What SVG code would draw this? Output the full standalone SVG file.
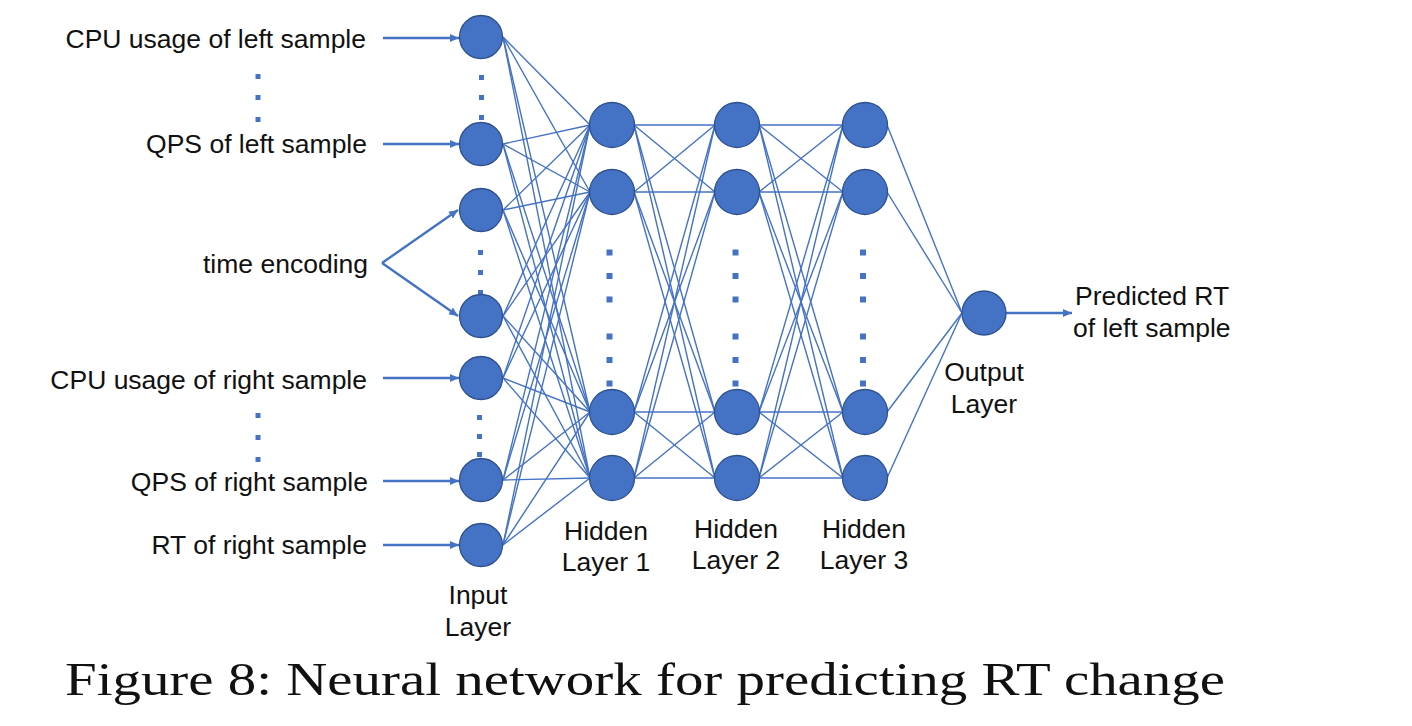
<svg xmlns="http://www.w3.org/2000/svg" width="1412" height="726" viewBox="0 0 1412 726">
<style>
.t{font-family:"Liberation Sans",Arial,sans-serif;font-size:26.5px;fill:#111}
.c{font-family:"Liberation Serif","Times New Roman",serif;font-size:47px;fill:#111}
.n{fill:#4472C4;stroke:#2F528F;stroke-width:1.3}
.w{stroke:#4472C4;stroke-width:1.4;fill:none}
.a{stroke:#4472C4;stroke-width:2.4;fill:none;marker-end:url(#arr)}
.d{fill:#4472C4}
</style>
<defs>
<marker id="arr" markerWidth="11" markerHeight="10" refX="9" refY="4.5" orient="auto" markerUnits="userSpaceOnUse"><path d="M0,0.5 L9,4.5 L0,8.5 z" fill="#4472C4"/></marker>
</defs>
<rect width="1412" height="726" fill="#fff"/>
<g id="connectors">
<g class="w">
<line x1="503" y1="37" x2="590" y2="125"/><line x1="503" y1="37" x2="590" y2="192"/><line x1="503" y1="37" x2="590" y2="412"/><line x1="503" y1="37" x2="590" y2="478"/>
<line x1="503" y1="144" x2="590" y2="125"/><line x1="503" y1="144" x2="590" y2="192"/><line x1="503" y1="144" x2="590" y2="412"/><line x1="503" y1="144" x2="590" y2="478"/>
<line x1="503" y1="210" x2="590" y2="125"/><line x1="503" y1="210" x2="590" y2="192"/><line x1="503" y1="210" x2="590" y2="412"/><line x1="503" y1="210" x2="590" y2="478"/>
<line x1="503" y1="316" x2="590" y2="125"/><line x1="503" y1="316" x2="590" y2="192"/><line x1="503" y1="316" x2="590" y2="412"/><line x1="503" y1="316" x2="590" y2="478"/>
<line x1="503" y1="378" x2="590" y2="125"/><line x1="503" y1="378" x2="590" y2="192"/><line x1="503" y1="378" x2="590" y2="412"/><line x1="503" y1="378" x2="590" y2="478"/>
<line x1="503" y1="480" x2="590" y2="125"/><line x1="503" y1="480" x2="590" y2="192"/><line x1="503" y1="480" x2="590" y2="412"/><line x1="503" y1="480" x2="590" y2="478"/>
<line x1="503" y1="545" x2="590" y2="125"/><line x1="503" y1="545" x2="590" y2="192"/><line x1="503" y1="545" x2="590" y2="412"/><line x1="503" y1="545" x2="590" y2="478"/>
<line x1="634" y1="125" x2="715" y2="125"/><line x1="634" y1="125" x2="715" y2="192"/><line x1="634" y1="125" x2="715" y2="412"/><line x1="634" y1="125" x2="715" y2="478"/>
<line x1="634" y1="192" x2="715" y2="125"/><line x1="634" y1="192" x2="715" y2="192"/><line x1="634" y1="192" x2="715" y2="412"/><line x1="634" y1="192" x2="715" y2="478"/>
<line x1="634" y1="412" x2="715" y2="125"/><line x1="634" y1="412" x2="715" y2="192"/><line x1="634" y1="412" x2="715" y2="412"/><line x1="634" y1="412" x2="715" y2="478"/>
<line x1="634" y1="478" x2="715" y2="125"/><line x1="634" y1="478" x2="715" y2="192"/><line x1="634" y1="478" x2="715" y2="412"/><line x1="634" y1="478" x2="715" y2="478"/>
<line x1="759" y1="125" x2="843" y2="125"/><line x1="759" y1="125" x2="843" y2="192"/><line x1="759" y1="125" x2="843" y2="412"/><line x1="759" y1="125" x2="843" y2="478"/>
<line x1="759" y1="192" x2="843" y2="125"/><line x1="759" y1="192" x2="843" y2="192"/><line x1="759" y1="192" x2="843" y2="412"/><line x1="759" y1="192" x2="843" y2="478"/>
<line x1="759" y1="412" x2="843" y2="125"/><line x1="759" y1="412" x2="843" y2="192"/><line x1="759" y1="412" x2="843" y2="412"/><line x1="759" y1="412" x2="843" y2="478"/>
<line x1="759" y1="478" x2="843" y2="125"/><line x1="759" y1="478" x2="843" y2="192"/><line x1="759" y1="478" x2="843" y2="412"/><line x1="759" y1="478" x2="843" y2="478"/>
<line x1="887" y1="125" x2="962" y2="313"/><line x1="887" y1="192" x2="962" y2="313"/><line x1="887" y1="412" x2="962" y2="313"/><line x1="887" y1="478" x2="962" y2="313"/>
</g>
<line class="a" x1="383" y1="38" x2="459" y2="38"/>
<line class="a" x1="383" y1="144" x2="459" y2="144"/>
<line class="a" x1="382" y1="263" x2="458" y2="210"/>
<line class="a" x1="382" y1="263" x2="458" y2="316"/>
<line class="a" x1="383" y1="378" x2="459" y2="378"/>
<line class="a" x1="383" y1="481" x2="459" y2="481"/>
<line class="a" x1="383" y1="545" x2="459" y2="545"/>
<line class="a" x1="1006" y1="313" x2="1072" y2="313"/>
</g>
<g id="dots">
<rect class="d" x="255.5" y="74" width="5" height="5"/><rect class="d" x="255.5" y="95" width="5" height="5"/><rect class="d" x="255.5" y="117" width="5" height="5"/>
<rect class="d" x="255.5" y="413" width="5" height="5"/><rect class="d" x="255.5" y="435" width="5" height="5"/><rect class="d" x="255.5" y="457" width="5" height="5"/>
<rect class="d" x="479" y="75" width="5" height="5"/><rect class="d" x="479" y="95" width="5" height="5"/><rect class="d" x="479" y="115" width="5" height="5"/>
<rect class="d" x="478" y="250" width="5" height="5"/><rect class="d" x="478" y="270" width="5" height="5"/><rect class="d" x="478" y="290" width="5" height="5"/>
<rect class="d" x="477" y="415" width="5" height="5"/><rect class="d" x="477" y="434" width="5" height="5"/><rect class="d" x="477" y="452" width="5" height="5"/>
<rect class="d" x="606.5" y="249.5" width="6" height="6"/><rect class="d" x="606.5" y="273" width="6" height="6"/><rect class="d" x="606.5" y="296.5" width="6" height="6"/><rect class="d" x="606.5" y="333.5" width="6" height="6"/><rect class="d" x="606.5" y="357" width="6" height="6"/><rect class="d" x="606.5" y="380.5" width="6" height="6"/>
<rect class="d" x="732.5" y="249.5" width="6" height="6"/><rect class="d" x="732.5" y="273" width="6" height="6"/><rect class="d" x="732.5" y="296.5" width="6" height="6"/><rect class="d" x="732.5" y="333.5" width="6" height="6"/><rect class="d" x="732.5" y="357" width="6" height="6"/><rect class="d" x="732.5" y="380.5" width="6" height="6"/>
<rect class="d" x="860" y="249.5" width="6" height="6"/><rect class="d" x="860" y="273" width="6" height="6"/><rect class="d" x="860" y="296.5" width="6" height="6"/><rect class="d" x="860" y="333.5" width="6" height="6"/><rect class="d" x="860" y="357" width="6" height="6"/><rect class="d" x="860" y="380.5" width="6" height="6"/>
</g>
<g id="input-layer">
<circle class="n" cx="481" cy="37" r="21.5"/>
<circle class="n" cx="481" cy="144" r="21.5"/>
<circle class="n" cx="481" cy="210" r="21.5"/>
<circle class="n" cx="481" cy="316" r="21.5"/>
<circle class="n" cx="481" cy="378" r="21.5"/>
<circle class="n" cx="481" cy="480" r="21.5"/>
<circle class="n" cx="481" cy="545" r="21.5"/>
<text class="t" x="478" y="604" text-anchor="middle">Input</text>
<text class="t" x="478" y="636" text-anchor="middle">Layer</text>
</g>
<g id="hidden-layer-1">
<circle class="n" cx="612" cy="125" r="22.5"/>
<circle class="n" cx="612" cy="192" r="22.5"/>
<circle class="n" cx="612" cy="412" r="22.5"/>
<circle class="n" cx="612" cy="478" r="22.5"/>
<text class="t" x="606" y="540" text-anchor="middle">Hidden</text>
<text class="t" x="606" y="571" text-anchor="middle">Layer 1</text>
</g>
<g id="hidden-layer-2">
<circle class="n" cx="737" cy="125" r="22.5"/>
<circle class="n" cx="737" cy="192" r="22.5"/>
<circle class="n" cx="737" cy="412" r="22.5"/>
<circle class="n" cx="737" cy="478" r="22.5"/>
<text class="t" x="736" y="538" text-anchor="middle">Hidden</text>
<text class="t" x="736" y="569" text-anchor="middle">Layer 2</text>
</g>
<g id="hidden-layer-3">
<circle class="n" cx="865" cy="125" r="22.5"/>
<circle class="n" cx="865" cy="192" r="22.5"/>
<circle class="n" cx="865" cy="412" r="22.5"/>
<circle class="n" cx="865" cy="478" r="22.5"/>
<text class="t" x="864" y="538" text-anchor="middle">Hidden</text>
<text class="t" x="864" y="569" text-anchor="middle">Layer 3</text>
</g>
<g id="output-layer">
<circle class="n" cx="984" cy="313" r="22"/>
<text class="t" x="984" y="381" text-anchor="middle">Output</text>
<text class="t" x="984" y="413" text-anchor="middle">Layer</text>
</g>
<g id="input-labels">
<text class="t" x="366" y="48" text-anchor="end">CPU usage of left sample</text>
<text class="t" x="367" y="153" text-anchor="end">QPS of left sample</text>
<text class="t" x="368" y="273" text-anchor="end">time encoding</text>
<text class="t" x="367" y="389" text-anchor="end">CPU usage of right sample</text>
<text class="t" x="368" y="491" text-anchor="end">QPS of right sample</text>
<text class="t" x="367" y="554" text-anchor="end">RT of right sample</text>
</g>
<g id="output-label">
<text class="t" x="1075" y="305">Predicted RT</text>
<text class="t" x="1073" y="337">of left sample</text>
</g>
<text class="c" x="65" y="695" textLength="1160" lengthAdjust="spacingAndGlyphs">Figure 8: Neural network for predicting RT change</text>
</svg>
